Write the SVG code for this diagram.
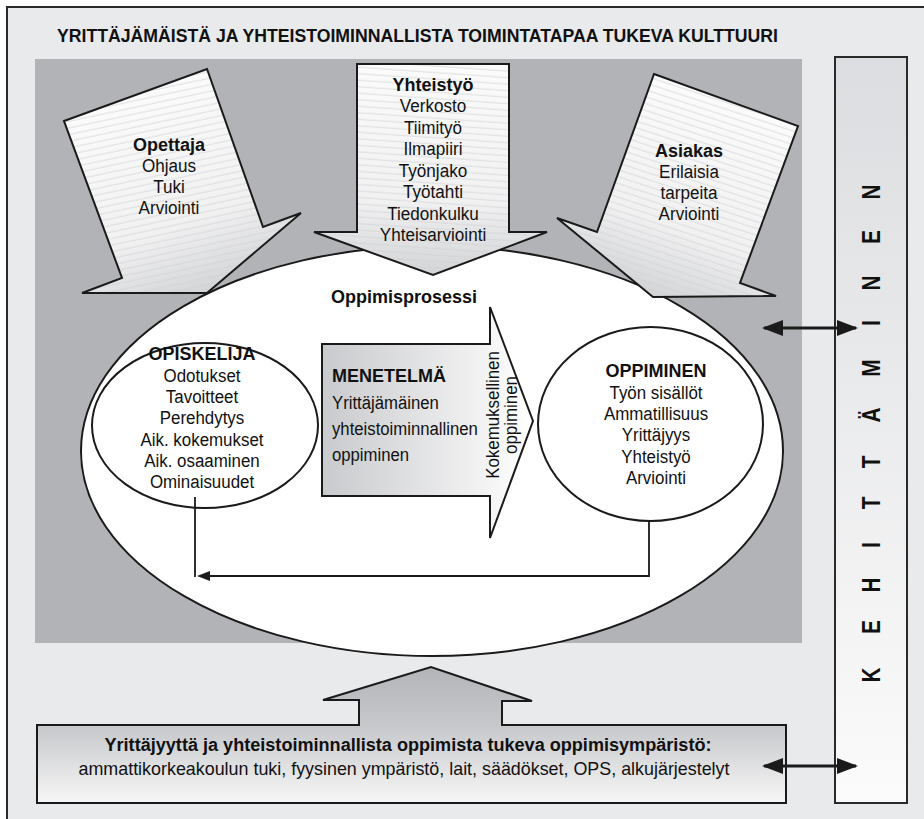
<svg xmlns="http://www.w3.org/2000/svg" width="924" height="819" viewBox="0 0 924 819">
<defs>
<style>
text{font-family:"Liberation Sans",Arial,sans-serif;fill:#111;}
.b{font-weight:bold;font-size:18px;}
.r{font-size:19px;}
.m{text-anchor:middle;}
.ol{stroke:#1a1a1a;stroke-width:2;stroke-linejoin:miter;}
.conn{fill:none;stroke:#1a1a1a;}
.kl{font-weight:bold;font-size:26px;text-anchor:middle;}
</style>
<linearGradient id="gOpe" gradientUnits="userSpaceOnUse" x1="135" y1="95" x2="207" y2="293">
<stop offset="0" stop-color="#fbfbfb"/><stop offset="0.65" stop-color="#f1f1f2"/><stop offset="1" stop-color="#d3d4d6"/></linearGradient>
<linearGradient id="gYht" gradientUnits="userSpaceOnUse" x1="0" y1="64" x2="0" y2="275">
<stop offset="0" stop-color="#fbfbfb"/><stop offset="0.65" stop-color="#f1f1f2"/><stop offset="1" stop-color="#d3d4d6"/></linearGradient>
<linearGradient id="gAsi" gradientUnits="userSpaceOnUse" x1="726" y1="100" x2="653" y2="297">
<stop offset="0" stop-color="#fbfbfb"/><stop offset="0.65" stop-color="#f1f1f2"/><stop offset="1" stop-color="#d3d4d6"/></linearGradient>
<linearGradient id="gMet" gradientUnits="userSpaceOnUse" x1="322" y1="0" x2="533" y2="0">
<stop offset="0" stop-color="#c9cacd"/><stop offset="1" stop-color="#ffffff"/></linearGradient>
<linearGradient id="gBot" gradientUnits="userSpaceOnUse" x1="0" y1="667" x2="0" y2="803">
<stop offset="0" stop-color="#b3b4b7"/><stop offset="0.45" stop-color="#c8c9cc"/><stop offset="1" stop-color="#f7f7f7"/></linearGradient>
<linearGradient id="gBar" gradientUnits="userSpaceOnUse" x1="0" y1="57" x2="0" y2="803">
<stop offset="0" stop-color="#dcdde0"/><stop offset="1" stop-color="#fbfbfb"/></linearGradient>
<pattern id="pOpe" patternUnits="userSpaceOnUse" width="300" height="6.5" patternTransform="rotate(-12)">
<line x1="0" y1="3" x2="300" y2="3" stroke="#cfd0d2" stroke-width="0.7"/></pattern>
<pattern id="pYht" patternUnits="userSpaceOnUse" width="300" height="6.5" patternTransform="rotate(4)">
<line x1="0" y1="3" x2="300" y2="3" stroke="#cfd0d2" stroke-width="0.7"/></pattern>
<pattern id="pAsi" patternUnits="userSpaceOnUse" width="300" height="6.5" patternTransform="rotate(18)">
<line x1="0" y1="3" x2="300" y2="3" stroke="#cfd0d2" stroke-width="0.7"/></pattern>
<marker id="dbl" markerUnits="userSpaceOnUse" viewBox="0 0 21 16" refX="19" refY="8" markerWidth="21" markerHeight="16" orient="auto-start-reverse">
<path d="M0,0 L21,8 L0,16 z" fill="#1a1a1a"/></marker>
<marker id="small" markerUnits="userSpaceOnUse" viewBox="0 0 13 10" refX="0" refY="5" markerWidth="13" markerHeight="10" orient="auto">
<path d="M0,0 L13,5 L0,10 z" fill="#1a1a1a"/></marker>
</defs>

<rect x="0" y="0" width="924" height="819" fill="#ffffff"/>
<rect id="frame" x="7" y="7" width="930" height="830" fill="#e9eaec" stroke="#2a2a2a" stroke-width="2"/>
<rect id="culture-area" x="35" y="59" width="767" height="584" fill="#b2b3b7"/>
<text id="title" class="b" x="57" y="42" font-size="18.5" textLength="721" lengthAdjust="spacingAndGlyphs">YRITTÄJÄMÄISTÄ JA YHTEISTOIMINNALLISTA TOIMINTATAPAA TUKEVA KULTTUURI</text>

<g id="kehittaminen">
<rect x="835" y="57" width="72" height="746" fill="url(#gBar)" stroke="#2a2a2a" stroke-width="2"/>
<g transform="translate(880,0) rotate(-90) scale(0.8,1)">
<text class="kl" x="-240 -296.25 -353.75 -403.75 -460 -518.75 -577.5 -628.75 -681.25 -731.25 -783.75 -843.75" y="0">NENIMÄTTIHEK</text>
</g>
</g>

<g id="oppimisprosessi">
<ellipse cx="432" cy="451" rx="351" ry="205" fill="#ffffff" stroke="#1a1a1a" stroke-width="2"/>
<text class="b" x="331" y="303" font-size="17.5">Oppimisprosessi</text>
</g>

<g id="opettaja">
<polygon points="64,121 207,69 263,227 301,213 207,293 82,293 122,278" fill="url(#gOpe)"/>
<polygon points="64,121 207,69 263,227 301,213 207,293 82,293 122,278" fill="url(#pOpe)"/>
<polygon points="64,121 207,69 263,227 301,213 207,293 82,293 122,278" fill="none" class="ol"/>
<text class="b m" x="169" y="151">Opettaja</text>
<g transform="translate(169,0) scale(0.9,1)">
<text class="r m" x="0" y="172">Ohjaus</text>
<text class="r m" x="0" y="193">Tuki</text>
<text class="r m" x="0" y="214">Arviointi</text>
</g>
</g>

<g id="yhteistyo">
<polygon points="357,64 509,64 509,232 547,232 433,275 314,232 357,232" fill="url(#gYht)"/>
<polygon points="357,64 509,64 509,232 547,232 433,275 314,232 357,232" fill="url(#pYht)"/>
<polygon points="357,64 509,64 509,232 547,232 433,275 314,232 357,232" fill="none" class="ol"/>
<text class="b m" x="433" y="91">Yhteistyö</text>
<g transform="translate(433,0) scale(0.9,1)">
<text class="r m" x="0" y="112.5">Verkosto</text>
<text class="r m" x="0" y="134">Tiimityö</text>
<text class="r m" x="0" y="155.5">Ilmapiiri</text>
<text class="r m" x="0" y="177">Työnjako</text>
<text class="r m" x="0" y="198.5">Työtahti</text>
<text class="r m" x="0" y="220">Tiedonkulku</text>
<text class="r m" x="0" y="241.5">Yhteisarviointi</text>
</g>
</g>

<g id="asiakas">
<polygon points="654,74 798,126 740,283 776,296 653,297 557,218 597,232" fill="url(#gAsi)"/>
<polygon points="654,74 798,126 740,283 776,296 653,297 557,218 597,232" fill="url(#pAsi)"/>
<polygon points="654,74 798,126 740,283 776,296 653,297 557,218 597,232" fill="none" class="ol"/>
<text class="b m" x="689" y="157">Asiakas</text>
<g transform="translate(689,0) scale(0.9,1)">
<text class="r m" x="0" y="178">Erilaisia</text>
<text class="r m" x="0" y="199">tarpeita</text>
<text class="r m" x="0" y="220">Arviointi</text>
</g>
</g>

<g id="opiskelija">
<ellipse cx="205" cy="425.5" rx="113" ry="82.5" fill="#ffffff" stroke="#1a1a1a" stroke-width="2"/>
<text class="b m" x="202" y="360" font-size="17">OPISKELIJA</text>
<g transform="translate(202,0) scale(0.89,1)">
<text class="r m" x="0" y="382">Odotukset</text>
<text class="r m" x="0" y="403">Tavoitteet</text>
<text class="r m" x="0" y="424">Perehdytys</text>
<text class="r m" x="0" y="446">Aik. kokemukset</text>
<text class="r m" x="0" y="467">Aik. osaaminen</text>
<text class="r m" x="0" y="488">Ominaisuudet</text>
</g>
</g>

<g id="menetelma">
<polygon points="322,344 490,344 490,307 533,421 490,538 490,496 322,496" fill="url(#gMet)" class="ol"/>
<text class="b" x="332" y="382" font-size="17.7">MENETELMÄ</text>
<g transform="translate(332,0) scale(0.88,1)">
<text class="r" x="0" y="409" font-size="18.8">Yrittäjämäinen</text>
<text class="r" x="0" y="435" font-size="18.8">yhteistoiminnallinen</text>
<text class="r" x="0" y="461" font-size="18.8">oppiminen</text>
</g>
<text class="r m" transform="translate(499,415) rotate(-90) scale(0.89,1)" x="0" y="0">Kokemuksellinen</text>
<text class="r m" transform="translate(517,415) rotate(-90) scale(0.89,1)" x="0" y="0">oppiminen</text>
</g>

<g id="oppiminen">
<ellipse cx="650.5" cy="424" rx="112.5" ry="97" fill="#ffffff" stroke="#1a1a1a" stroke-width="2"/>
<text class="b m" x="656" y="377" font-size="17">OPPIMINEN</text>
<g transform="translate(656,0) scale(0.89,1)">
<text class="r m" x="0" y="399">Työn sisällöt</text>
<text class="r m" x="0" y="420">Ammatillisuus</text>
<text class="r m" x="0" y="441">Yrittäjyys</text>
<text class="r m" x="0" y="463">Yhteistyö</text>
<text class="r m" x="0" y="484">Arviointi</text>
</g>
</g>

<g id="oppimisymparisto">
<path d="M37,725 H359 V700 H323 L431,667 L532,701 H502 V725 H786 V803 H37 Z" fill="url(#gBot)" class="ol"/>
<text class="b m" x="408" y="751" font-size="18" textLength="607" lengthAdjust="spacingAndGlyphs">Yrittäjyyttä ja yhteistoiminnallista oppimista tukeva oppimisympäristö:</text>
<text class="r m" x="404" y="775" font-size="19" textLength="651" lengthAdjust="spacingAndGlyphs">ammattikorkeakoulun tuki, fyysinen ympäristö, lait, säädökset, OPS, alkujärjestelyt</text>
</g>

<g id="connectors">
<path class="conn" stroke-width="1.8" d="M195,497 V577"/>
<path class="conn" stroke-width="1.8" d="M649,521 V576 H210" marker-end="url(#small)"/>
<path class="conn" stroke-width="3" d="M764,328 H856" marker-start="url(#dbl)" marker-end="url(#dbl)"/>
<path class="conn" stroke-width="3" d="M764,766 H856" marker-start="url(#dbl)" marker-end="url(#dbl)"/>
</g>
</svg>
